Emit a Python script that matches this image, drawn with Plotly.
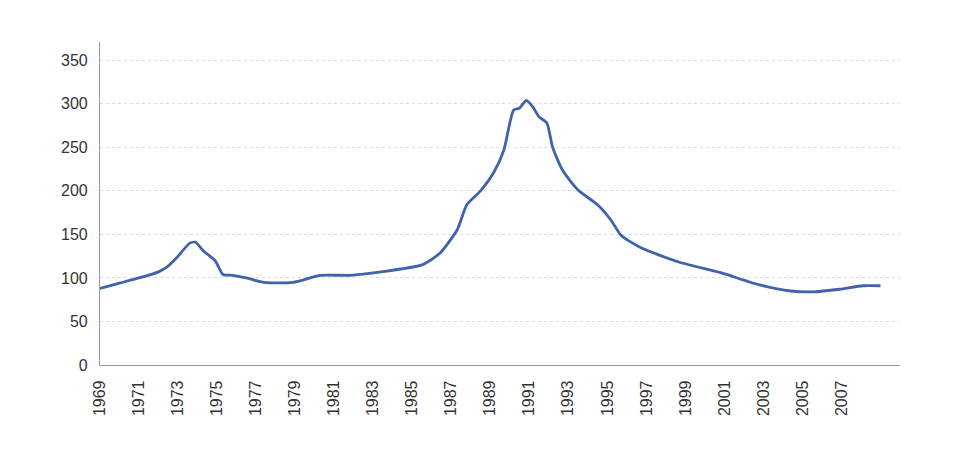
import plotly.graph_objects as go

# --- Data ---
years = [1969, 1970, 1971, 1972, 1972.4, 1973, 1973.6, 1973.9, 1974.3, 1974.9,
         1975.3, 1975.8, 1976.5, 1977.4, 1978.9, 1980.3, 1981.8, 1983.4, 1985.5,
         1986.4, 1987.3, 1987.8, 1988.5, 1989.2, 1989.7, 1990.2, 1990.5, 1990.85,
         1991.2, 1991.5, 1991.9, 1992.2, 1992.7, 1993.5, 1994.5, 1995.2, 1995.7,
         1996.7, 1998.7, 2000.8, 2002.8, 2004.4, 2005.6, 2006.9, 2008.1, 2009.0]
values = [88, 94, 100, 107, 112, 125, 140, 141, 131, 120,
          104, 103, 100, 95, 95, 103, 103, 107, 115,
          128, 155, 184, 200, 222, 247, 293, 295, 304,
          296, 285, 278, 250, 224, 201, 184, 166, 149,
          135, 118, 106, 92, 85, 84, 87, 91, 91]

x_ticks = list(range(1969, 2009, 2))
y_ticks = [0, 50, 100, 150, 200, 250, 300, 350]

fig = go.Figure()
fig.add_trace(go.Scatter(
    x=years, y=values, mode="lines",
    line=dict(color="#4163ab", width=2.8, shape="spline", smoothing=0.6),
    hoverinfo="x+y", showlegend=False,
))

# page body has an 8px default margin, so the figure is sized/offset for it
fig.update_layout(
    width=952, height=448,
    margin=dict(l=92, r=60, t=34, b=91),
    paper_bgcolor="white", plot_bgcolor="white",
    font=dict(family="Liberation Sans, Arial, sans-serif", size=16, color="#333333"),
)
fig.update_xaxes(
    range=[1969, 2010], tickmode="array", tickvals=x_ticks,
    ticktext=[str(t) for t in x_ticks], tickangle=-90,
    showgrid=False, zeroline=False,
    showline=True, linecolor="#999999", linewidth=1.2,
    ticks="", ticklabelstandoff=8,
)
fig.update_yaxes(
    range=[0, 371], tickmode="array", tickvals=y_ticks,
    showgrid=True, gridcolor="#dddddd", griddash="dot", gridwidth=1,
    zeroline=False, showline=True, linecolor="#999999", linewidth=1.2,
    ticks="", ticklabelstandoff=8,
)

fig.write_html("out.html")
